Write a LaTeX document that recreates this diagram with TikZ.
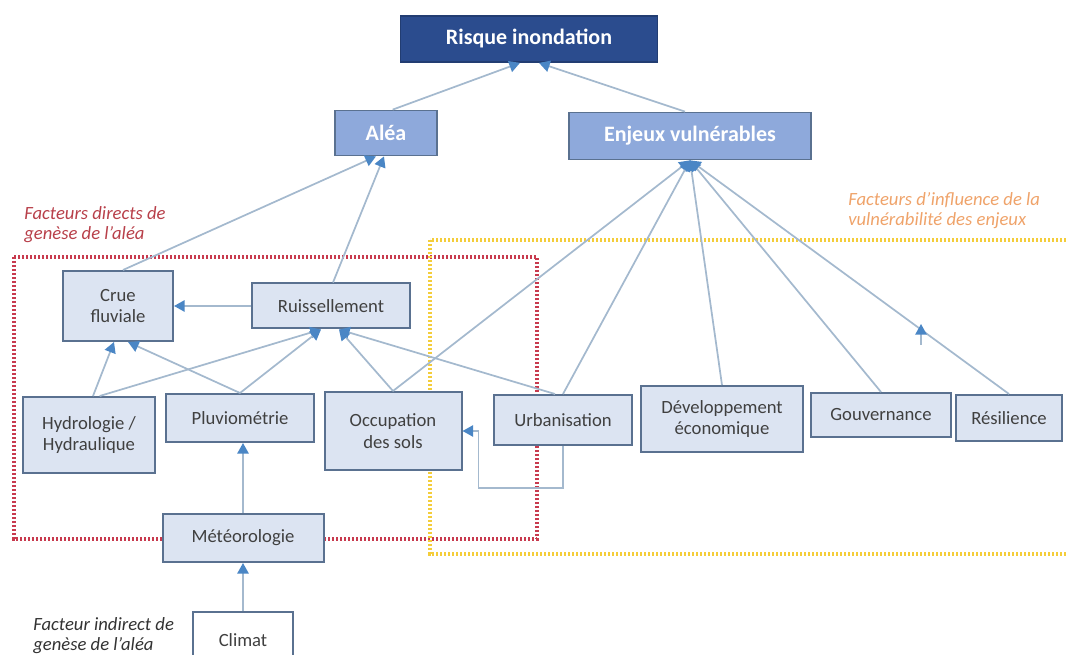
\documentclass[tikz,border=0pt]{standalone}
\usepackage{fontspec}
\setmainfont{Carlito}
\usetikzlibrary{arrows.meta}
\definecolor{darkhead}{HTML}{2B4C8E}
\definecolor{midhead}{HTML}{8EA9DB}
\definecolor{boxfill}{HTML}{DCE4F2}
\definecolor{boxline}{HTML}{5A7190}
\definecolor{linkline}{HTML}{A4B9CE}
\definecolor{tipblue}{HTML}{4A86C5}
\definecolor{redzone}{HTML}{C83A4E}
\definecolor{yellowzone}{HTML}{F4CD3A}
\definecolor{redtext}{HTML}{B8404A}
\definecolor{orangetext}{HTML}{EFA36A}
\def\dlink{\draw[link]}
\tikzset{
  sz/.style 2 args={minimum width=#1*0.75pt, minimum height=#2*0.75pt},
  box/.style={draw=boxline, line width=1.5pt, fill=boxfill, text=black!75,
    align=center, inner sep=1pt, font=\fontsize{14}{16}\selectfont},
  head/.style={draw=boxline, line width=1.3pt, fill=midhead, text=white,
    inner sep=1pt, font=\fontsize{16.5}{18}\selectfont\bfseries},
  riskbox/.style={head, fill=darkhead, draw=darkhead!80!black},
  link/.style={linkline, line width=1.3pt,
    -{Triangle[length=8pt,width=8.5pt,color=tipblue]}},
  zone/.style={line width=2.6pt, dash pattern=on 1.6pt off 1.4pt},
  note/.style={align=left, anchor=west, inner sep=0pt,
    font=\fontsize{14}{15}\selectfont\itshape}
}

\begin{document}
\begin{tikzpicture}[x=0.75pt,y=-0.75pt]
\useasboundingbox (0,0) rectangle (1067,655);
\clip (0,0) rectangle (1067,655);

% zones
\draw[zone,redzone] (14,257) rectangle (537,539);
\draw[zone,yellowzone] (430,240) rectangle (1080,554);
\node[note,text=redtext] (directs) at (24,225) {Facteurs directs de\\genèse de l’aléa};
\node[note,text=orangetext] (influence) at (848,211) {Facteurs d’influence de la\\vulnérabilité des enjeux};
\node[note,text=black!80] (indirect) at (33,636) {Facteur indirect de\\genèse de l’aléa};

% boxes
\node[riskbox,sz={257}{46}] (risque) at (529,39) {Risque inondation};
\node[head,sz={102}{45}] (alea) at (386,133) {Aléa};
\node[head,sz={242}{47}] (enjeux) at (690,136) {Enjeux vulnérables};
\node[box,sz={110}{70}] (crue) at (118,306) {Crue\\fluviale};
\node[box,sz={158}{45}] (ruiss) at (331,306) {Ruissellement};
\node[box,sz={132}{76}] (hydro) at (89,435) {Hydrologie /\\Hydraulique};
\node[box,sz={148}{48}] (pluvio) at (240,418) {Pluviométrie};
\node[box,sz={137}{78}] (occup) at (393,431) {Occupation\\des sols};
\node[box,sz={138}{50}] (urba) at (563,420) {Urbanisation};
\node[box,sz={162}{66}] (dev) at (722,419) {Développement\\économique};
\node[box,sz={140}{44}] (gouv) at (881,415) {Gouvernance};
\node[box,sz={106}{46}] (resil) at (1009,418) {Résilience};
\node[box,sz={161}{48}] (meteo) at (243,538) {Météorologie};
\node[box,fill=white,sz={100}{56}] (climat) at (243,640) {Climat};

% links
\dlink ([xshift=5pt]alea.north) -- ([xshift=-6.75pt]risque.south);
\dlink ([xshift=-3.75pt]enjeux.north) -- ([xshift=7.5pt]risque.south);
\dlink ([xshift=3.75pt]crue.north) -- ([xshift=-7.5pt]alea.south);
\dlink ([xshift=1.5pt]ruiss.north) -- ([xshift=-1.5pt]alea.south);
\dlink (ruiss.west) -- (crue.east);
\dlink ([xshift=3pt]hydro.north) -- ([xshift=-3pt]crue.south);
\dlink (pluvio.north) -- ([xshift=7.5pt]crue.south);
\dlink ([xshift=8pt]hydro.north) -- ([xshift=-7.5pt]ruiss.south);
\dlink (pluvio.north) -- ([xshift=-7.5pt]ruiss.south);
\dlink (occup.north) -- ([xshift=6pt]ruiss.south);
\dlink ([xshift=-6pt]urba.north) -- ([xshift=6pt]ruiss.south);
\dlink (occup.north) -- (enjeux.south);
\dlink (urba.north) -- (enjeux.south);
\dlink (dev.north) -- (enjeux.south);
\dlink (gouv.north) -- (enjeux.south);
\dlink (resil.north) -- (enjeux.south);
\coordinate (tickfoot) at (921,345);
\coordinate (tickhead) at (921,324);
\dlink (tickfoot) -- (tickhead);
\dlink (meteo.north) -- (meteo.north |- pluvio.south);
\dlink (climat.north) -- (meteo.south);
\dlink (urba.south) -- ++(0,42) -| ([xshift=12pt]occup.east) -- (occup.east);
\end{tikzpicture}
\end{document}
